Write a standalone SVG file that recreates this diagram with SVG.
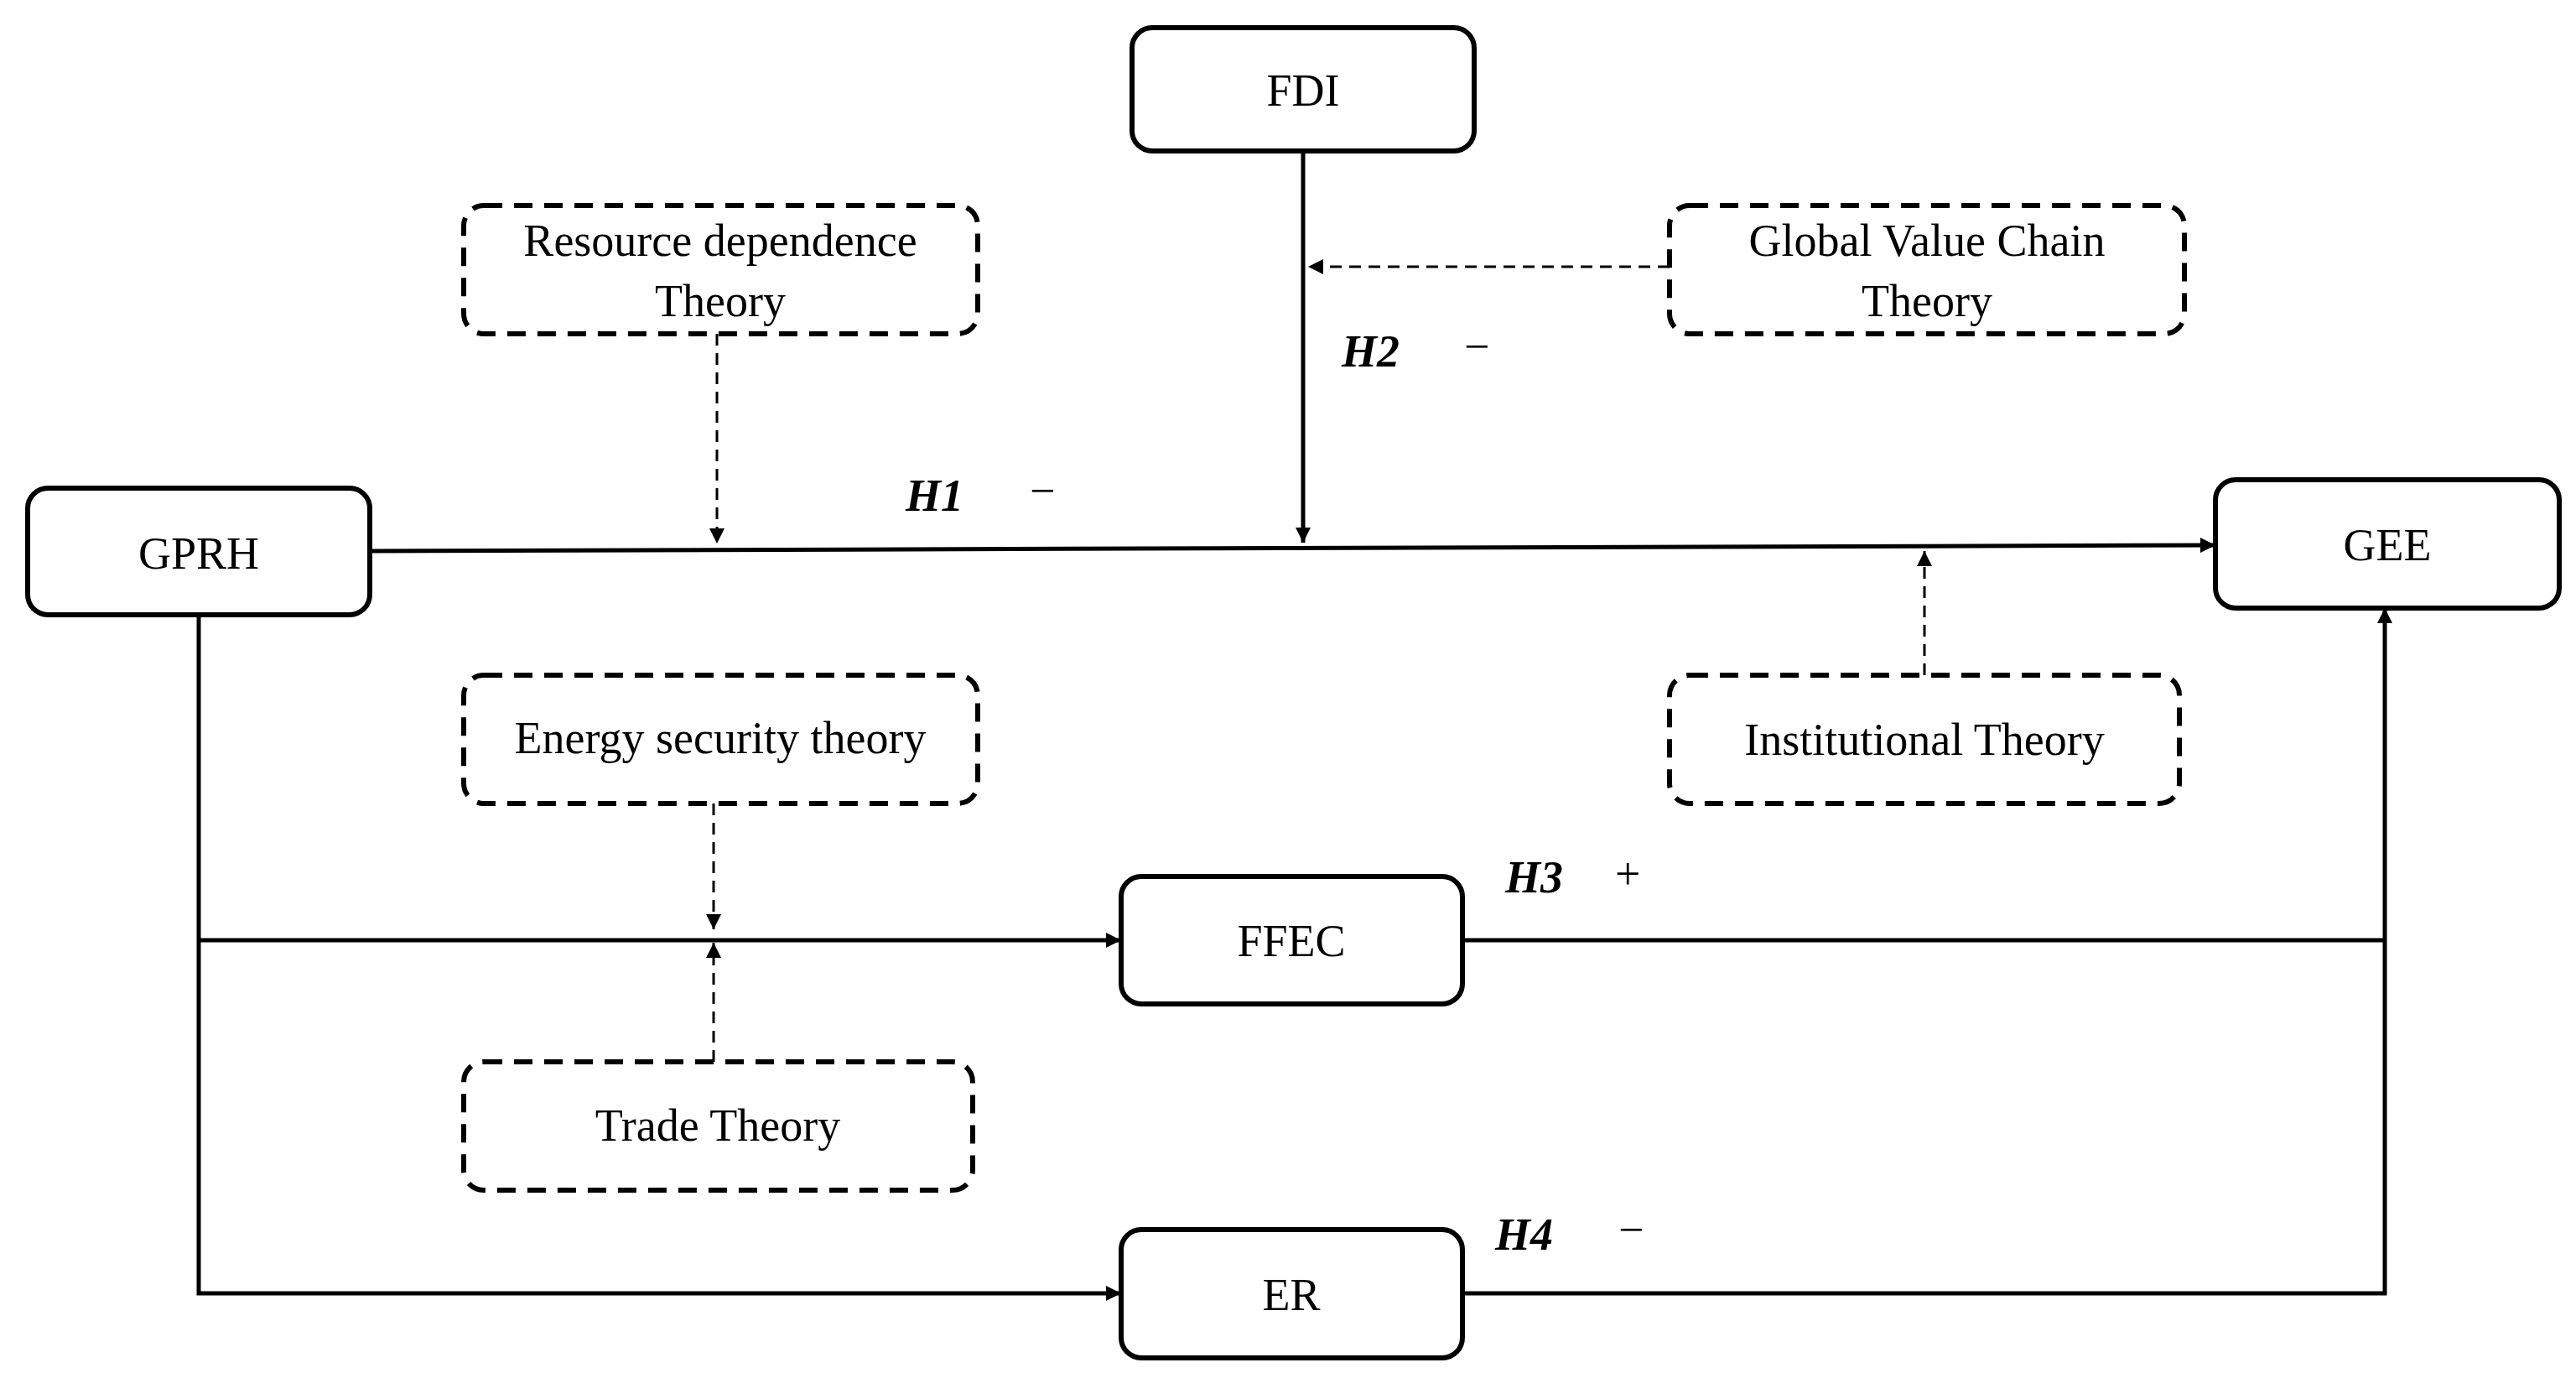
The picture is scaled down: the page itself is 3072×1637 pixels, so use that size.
<svg xmlns="http://www.w3.org/2000/svg" width="3072" height="1637" viewBox="0 0 3072 1637">
<style>
.n{fill:#fff;stroke:#000;stroke-width:6}
.d{fill:#fff;stroke:#000;stroke-width:6;stroke-dasharray:22 14}
.t{font-family:"Liberation Serif",serif;font-size:54px;text-anchor:middle;fill:#000}
.h{font-family:"Liberation Serif",serif;font-size:54px;font-style:italic;font-weight:bold;fill:#000}
.s{font-family:"Liberation Serif",serif;font-size:54px;fill:#000}
.l{stroke:#000;stroke-width:5;fill:none}
.dl{stroke:#000;stroke-width:3;fill:none;stroke-dasharray:14 9}
</style>
<defs>
<marker id="a" viewBox="0 0 10 10" refX="10" refY="5" markerWidth="6" markerHeight="6" markerUnits="userSpaceOnUse" orient="auto"><path d="M0,0L10,5L0,10z" fill="#000"/></marker>
<marker id="b" viewBox="0 0 10 10" refX="10" refY="5" markerWidth="18" markerHeight="18" markerUnits="userSpaceOnUse" orient="auto"><path d="M0,0L10,5L0,10z" fill="#000"/></marker>
</defs>
<rect width="3072" height="1637" fill="#fff"/>
<g id="connectors">
<path class="l" d="M441,657 L2642,650" marker-end="url(#b)"/>
<path class="l" d="M1554,180 L1554,647" marker-end="url(#b)"/>
<path class="dl" d="M1991,318 L1560,318" marker-end="url(#b)"/>
<path class="dl" d="M855,398 L855,648" marker-end="url(#b)"/>
<path class="dl" d="M2295,805 L2295,657" marker-end="url(#b)"/>
<path class="dl" d="M851,958 L851,1108" marker-end="url(#b)"/>
<path class="dl" d="M851,1266 L851,1124" marker-end="url(#b)"/>
<path class="l" d="M237,733 L237,1542 L1337,1542" marker-end="url(#b)"/>
<path class="l" d="M237,1121 L1337,1121" marker-end="url(#b)"/>
<path class="l" d="M1744,1121 L2844,1121"/>
<path class="l" d="M1744,1542 L2844,1542 L2844,725" marker-end="url(#b)"/>
</g>
<g id="FDI"><rect class="n" x="1350" y="33" width="408" height="147" rx="24"/><text class="t" x="1554" y="126">FDI</text></g>
<g id="GPRH"><rect class="n" x="33" y="582" width="408" height="151" rx="24"/><text class="t" x="237" y="678">GPRH</text></g>
<g id="GEE"><rect class="n" x="2642" y="572" width="410" height="153" rx="24"/><text class="t" x="2847" y="668">GEE</text></g>
<g id="FFEC"><rect class="n" x="1337" y="1045" width="407" height="152" rx="24"/><text class="t" x="1540" y="1140">FFEC</text></g>
<g id="ER"><rect class="n" x="1337" y="1466" width="407" height="153" rx="24"/><text class="t" x="1540" y="1562">ER</text></g>
<g id="ResourceDependence"><rect class="d" x="553" y="245" width="613" height="153" rx="24"/><text class="t" x="859" y="305">Resource dependence</text><text class="t" x="859" y="377">Theory</text></g>
<g id="GlobalValueChain"><rect class="d" x="1991" y="245" width="614" height="153" rx="24"/><text class="t" x="2298" y="305">Global Value Chain</text><text class="t" x="2298" y="377">Theory</text></g>
<g id="EnergySecurity"><rect class="d" x="553" y="805" width="613" height="153" rx="24"/><text class="t" x="859" y="898">Energy security theory</text></g>
<g id="Institutional"><rect class="d" x="1991" y="805" width="608" height="153" rx="24"/><text class="t" x="2295" y="900">Institutional Theory</text></g>
<g id="Trade"><rect class="d" x="553" y="1266" width="607" height="153" rx="24"/><text class="t" x="856" y="1360">Trade Theory</text></g>
<g id="labels">
<text class="h" x="1080" y="609">H1</text><text class="s" x="1228" y="603">−</text>
<text class="h" x="1600" y="437">H2</text><text class="s" x="1746" y="431">−</text>
<text class="h" x="1795" y="1064">H3</text><text class="s" x="1926" y="1060">+</text>
<text class="h" x="1783" y="1490">H4</text><text class="s" x="1930" y="1484">−</text>
</g>
</svg>
